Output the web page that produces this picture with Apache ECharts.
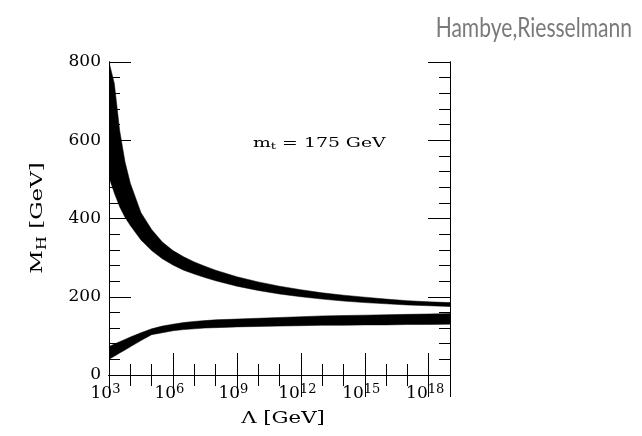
<!DOCTYPE html>
<html><head><meta charset="utf-8">
<script src="https://cdn.jsdelivr.net/npm/echarts@6/dist/echarts.min.js"></script>
<style>html,body{margin:0;padding:0;background:#fff}#c{width:642px;height:436px}</style>
</head><body><div id="c"></div>
<script>
// log10(Lambda / GeV)
const logLambda      = [3, 3.25, 3.5, 3.75, 4, 4.5, 5, 5.5, 6, 6.5, 7, 7.5, 8, 9, 10, 11, 12, 13, 14, 15, 16, 17, 18, 19];
// upper (triviality) band, M_H in GeV
const upperBandHigh  = [800, 745, 625, 545, 490, 415, 372, 340, 318, 302, 289, 278, 268, 251, 238, 227, 218, 210, 204, 199, 194, 190, 187, 185];
const upperBandLow   = [505, 465, 430, 403, 382, 345, 318, 297, 281, 268, 258, 249, 241, 227, 216, 207, 200, 194, 189, 185, 182, 179, 177, 175];
// lower (vacuum stability) band
const lowerBandHigh  = [73, 79, 85, 91, 97, 108, 118, 125, 130, 134, 137, 139, 141, 143, 145, 147, 149, 151, 152, 153, 154, 155, 156, 157];
const lowerBandLow   = [40, 48, 56, 64, 72, 88, 103, 108, 113, 116, 118, 120, 121, 123, 124, 125, 126, 127, 127, 128, 128, 129, 129, 130];
const xMajorTicks = [3, 6, 9, 12, 15, 18];
const yTickLabels = ['0', '200', '400', '600', '800'];

const chart = echarts.init(document.getElementById('c'), null, {renderer: 'canvas'});
const serif = 'DejaVu Serif';
const gridRect = {left: 109, top: 62, width: 341, height: 313};
const axisLine = {show: true, lineStyle: {color: '#000', width: 1}};

function xAxisDef(grid, pos, interval, len, labels) {
  return {
    type: 'value', gridIndex: grid, position: pos, min: 3, max: 19, interval: interval,
    axisLine: axisLine, splitLine: {show: false},
    axisTick: {show: true, inside: true, length: len, lineStyle: {color: '#000', width: 1}},
    axisLabel: labels ? {
      show: true, margin: 8, color: '#000', fontFamily: serif, fontSize: 17, padding: [0, 7, 0, 0],
      formatter: v => xMajorTicks.indexOf(v) >= 0 ? '10{s|' + v + '}' : '',
      rich: {s: {fontFamily: serif, fontSize: 13, color: '#000', padding: [0, 0, 9, 0]}}
    } : {show: false}
  };
}
function yAxisDef(grid, pos, interval, len, labels) {
  return {
    type: 'value', gridIndex: grid, position: pos, min: 0, max: 800, interval: interval,
    axisLine: axisLine, splitLine: {show: false},
    axisTick: {show: true, inside: true, length: len, lineStyle: {color: '#000', width: 1}},
    axisLabel: labels ? {
      show: true, margin: 8, color: '#000', fontFamily: serif, fontSize: 17,
      formatter: v => yTickLabels[v / 200]
    } : {show: false}
  };
}

function bandItem(high, low) {
  return function (params, api) {
    const pts = [];
    for (let i = 0; i < logLambda.length; i++) pts.push(api.coord([logLambda[i], high[i]]));
    for (let i = logLambda.length - 1; i >= 0; i--) pts.push(api.coord([logLambda[i], low[i]]));
    return {type: 'polygon', shape: {points: pts}, style: {fill: '#000', stroke: '#000', lineWidth: 0.5}};
  };
}

chart.setOption({
  animation: false,
  backgroundColor: '#fff',
  grid: [Object.assign({}, gridRect), Object.assign({}, gridRect)],
  xAxis: [
    xAxisDef(0, 'bottom', 3, 22, true),
    xAxisDef(0, 'top', 3, 22, false),
    xAxisDef(1, 'bottom', 1, 11, false),
    xAxisDef(1, 'top', 1, 11, false)
  ],
  yAxis: [
    yAxisDef(0, 'left', 200, 22, true),
    yAxisDef(0, 'right', 200, 22, false),
    yAxisDef(1, 'left', 40, 11, false),
    yAxisDef(1, 'right', 40, 11, false)
  ],
  graphic: [
    {type: 'text', x: 632, y: 28, scaleX: 0.78, silent: true,
     style: {text: 'Hambye,Riesselmann', align: 'right', verticalAlign: 'middle',
             font: 'normal 27px Lato', fill: '#7a7a7a'}},
    {type: 'text', x: 253, y: 144, scaleX: 1.45, silent: true,
     style: {text: '{a|m}{b|t}{a| = 175 GeV}', verticalAlign: 'middle',
             rich: {a: {fontFamily: serif, fontSize: 13, fill: '#000'},
                    b: {fontFamily: serif, fontSize: 9, fill: '#000', padding: [6, 0, 0, 0]}}}},
    {type: 'text', x: 283, y: 419, scaleX: 1.25, silent: true,
     style: {text: 'Λ [GeV]', align: 'center', verticalAlign: 'middle',
             font: 'normal 17px "DejaVu Serif"', fill: '#000'}},
    {type: 'text', x: 38, y: 218, rotation: Math.PI / 2, scaleX: 1.35, silent: true,
     style: {text: '{m|M}{h|H}{m| [GeV]}', align: 'center', verticalAlign: 'middle',
             rich: {m: {fontFamily: serif, fontSize: 17, fill: '#000'},
                    h: {fontFamily: serif, fontSize: 12, fill: '#000', padding: [9, 0, 0, 0]}}}}
  ],
  series: [
    {type: 'custom', xAxisIndex: 0, yAxisIndex: 0, clip: true, silent: true,
     renderItem: bandItem(upperBandHigh, upperBandLow), data: [[logLambda[0], upperBandHigh[0]]]},
    {type: 'custom', xAxisIndex: 0, yAxisIndex: 0, clip: true, silent: true,
     renderItem: bandItem(lowerBandHigh, lowerBandLow), data: [[logLambda[0], lowerBandHigh[0]]]}
  ]
});
</script></body></html>
